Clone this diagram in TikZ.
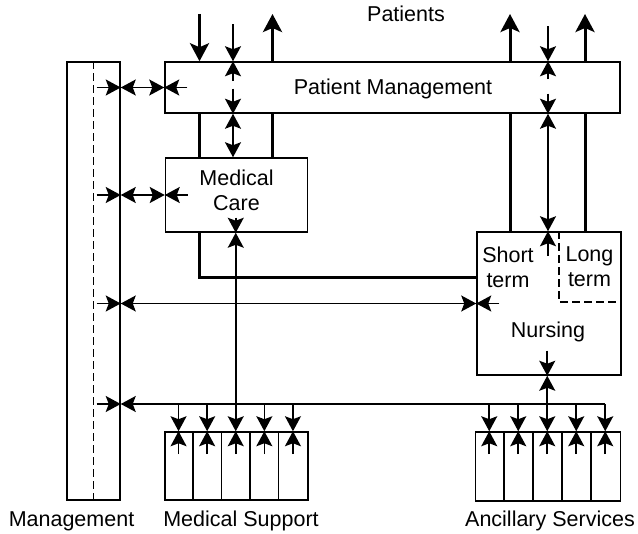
\documentclass[tikz,border=0pt]{standalone}
\usepackage{fontspec}
\setmainfont{Liberation Sans}
\usetikzlibrary{arrows.meta,calc}
\tikzset{
  tipthin/.tip={Stealth[length=15pt,width=16pt,inset=3pt]},
  tipthick/.tip={Stealth[length=18pt,width=19pt,inset=4pt]}
}
\begin{document}
\begin{tikzpicture}[x=1pt,y=-1pt,
  box/.style={draw,line width=1.5pt,inner sep=0pt},
  wire/.style={line width=1.6pt},
  heavy/.style={line width=3pt},
  fwd/.style={wire,-tipthin},
  twoway/.style={wire,tipthin-tipthin},
  heavyfwd/.style={heavy,-tipthick},
  dashline/.style={line width=1.5pt,dash pattern=on 8pt off 4pt},
  lab/.style={font=\fontsize{21.5}{25}\selectfont,inner sep=0pt,align=center}]
\useasboundingbox (0,0) rectangle (638,534);

% boxes
\node[box,minimum width=53pt,minimum height=438pt] (mgmt) at (93.5,281) {};
\node[box,minimum width=455pt,minimum height=51pt] (pm) at (392.5,87.5) {};
\node[box,minimum width=142pt,minimum height=74pt] (mc) at (236.5,195) {};
\node[box,minimum width=144pt,minimum height=143pt] (nu) at (549,303.5) {};
\node[box,minimum width=143pt,minimum height=68pt] (ms) at (236.5,466) {};
\node[box,minimum width=145pt,minimum height=69pt] (as) at (548,466.5) {};

% management bar split and the long-term corner of nursing
\draw[dashline] (mgmt.north) -- (mgmt.south);
\coordinate (ltc) at (559,302);
\draw[dashline] (ltc |- nu.north) -- (ltc) -- (nu.east |- ltc);

% service columns
\foreach \i in {1,...,5} {
  \coordinate (ms\i) at ($(ms.west)+(28.6*\i-14.3,0)$);
  \coordinate (as\i) at ($(as.west)+(29*\i-14.5,0)$);
}
\foreach \i in {1,...,4} {
  \draw[line width=1.5pt] ($(ms.north west)+(28.6*\i,0)$) -- ($(ms.south west)+(28.6*\i,0)$);
  \draw[line width=1.5pt] ($(as.north west)+(29*\i,0)$) -- ($(as.south west)+(29*\i,0)$);
}

% reference rows and columns
\coordinate (sky) at (0,14);
\coordinate (bus) at (0,404);
\coordinate (link) at (0,278);
\coordinate (c1) at (199.5,0);
\coordinate (c2) at (233,0);
\coordinate (c3) at (272.5,0);
\coordinate (c4) at (510,0);
\coordinate (c5) at (548,0);
\coordinate (c6) at (585,0);

% management links
\foreach \t in {pm,mc,nu} {
  \draw[fwd] ($(mgmt.center |- \t.west)+(3,0)$) -- (mgmt.east |- \t.west);
  \draw[twoway] (mgmt.east |- \t.west) -- (\t.west);
  \draw[fwd] ($(\t.west)+(23,0)$) -- (\t.west);
}
\draw[fwd] ($(mgmt.center |- bus)+(3,0)$) -- (mgmt.east |- bus);
\draw[fwd] (as5 |- bus) -- (mgmt.east |- bus);

% patient flows (heavy)
\draw[heavyfwd] (c1 |- sky) -- (c1 |- pm.north);
\draw[heavy] (c1 |- pm.south) -- (c1 |- mc.north);
\draw[heavy] (c1 |- mc.south) -- (c1 |- link) -- (nu.west |- link);
\draw[heavyfwd] (c3 |- pm.north) -- (c3 |- sky);
\draw[heavy] (c3 |- pm.south) -- (c3 |- mc.north);
\draw[heavyfwd] (c4 |- pm.north) -- (c4 |- sky);
\draw[heavy] (c4 |- pm.south) -- (c4 |- nu.north);
\draw[heavyfwd] (c6 |- pm.north) -- (c6 |- sky);
\draw[heavy] (c6 |- pm.south) -- (c6 |- nu.north);

% information flows
\draw[fwd] ($(c2 |- pm.north)+(0,-37)$) -- (c2 |- pm.north);
\draw[fwd] ($(c2 |- pm.north)+(0,20)$) -- (c2 |- pm.north);
\draw[fwd] ($(c2 |- pm.south)+(0,-25)$) -- (c2 |- pm.south);
\draw[twoway] (c2 |- pm.south) -- (c2 |- mc.north);

\draw[fwd] ($(c5 |- pm.north)+(0,-35)$) -- (c5 |- pm.north);
\draw[fwd] ($(c5 |- pm.north)+(0,18)$) -- (c5 |- pm.north);
\draw[fwd] ($(c5 |- pm.south)+(0,-20)$) -- (c5 |- pm.south);
\draw[twoway] (c5 |- pm.south) -- (c5 |- nu.north);
\draw[fwd] ($(c5 |- nu.north)+(0,25)$) -- (c5 |- nu.north);

\draw[fwd] ($(ms3 |- mc.south)+(0,-15)$) -- (ms3 |- mc.south);
\draw[twoway] (ms3 |- mc.south) -- (ms3 |- ms.north);

\draw[fwd] ($(as3 |- nu.south)+(0,-25)$) -- (as3 |- nu.south);
\draw[fwd] (as3 |- bus) -- (as3 |- nu.south);

\foreach \i in {1,2,4,5}
  \draw[fwd] (ms\i |- bus) -- (ms\i |- ms.north);
\foreach \i in {1,...,5} {
  \draw[fwd] ($(ms\i |- ms.north)+(0,23)$) -- (ms\i |- ms.north);
  \draw[fwd] (as\i |- bus) -- (as\i |- as.north);
  \draw[fwd] ($(as\i |- as.north)+(0,23)$) -- (as\i |- as.north);
}

% labels
\node[lab,anchor=base] (tpat) at (406,22) {Patients};
\node[lab,anchor=base] (tpm) at (393,95) {Patient Management};
\node[lab] (tmc) at (236.5,190) {Medical\\Care};
\node[lab] (tshort) at (508,267) {Short\\term};
\node[lab] (tlong) at (589.5,267) {Long\\term};
\node[lab,anchor=base] (tnu) at (548,338) {Nursing};
\node[lab,anchor=base] (tmg) at (71.5,527) {Management};
\node[lab,anchor=base] (tms) at (241,527) {Medical Support};
\node[lab,anchor=base] (tas) at (550,527) {Ancillary Services};
\end{tikzpicture}
\end{document}
